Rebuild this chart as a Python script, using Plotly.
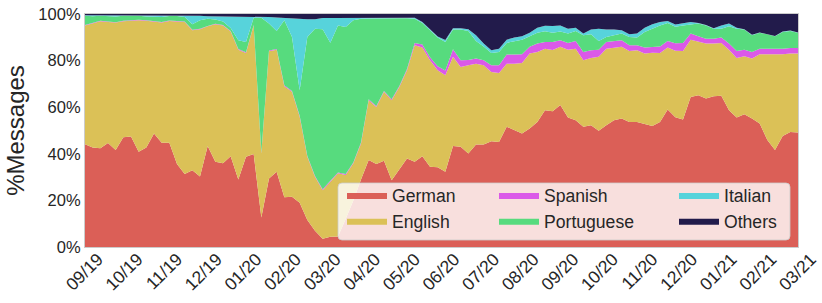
import numpy as np
import plotly.graph_objects as go

month_labels = ["09/19", "10/19", "11/19", "12/19", "01/20", "02/20", "03/20", "04/20",
                "05/20", "06/20", "07/20", "08/20", "09/20", "10/20", "11/20", "12/20",
                "01/21", "02/21", "03/21"]
pct_values = [0, 20, 40, 60, 80, 100]
pct_labels = ["0%", "20%", "40%", "60%", "80%", "100%"]

german = [44.1, 42.7, 42.4, 44.6, 41.6, 47.1, 47.4, 40.9, 42.7, 48.7, 44.7, 44.7, 35.6, 31.3, 32.9, 30.3,
          43.3, 36.6, 35.9, 39.0, 29.0, 38.7, 39.9, 12.7, 29.4, 32.3, 21.3, 21.6, 19.0, 11.6, 7.0, 3.5,
          4.4, 4.5, 12.0, 20.0, 29.0, 37.3, 35.6, 37.0, 28.7, 33.3, 38.0, 36.6, 39.0, 34.4, 34.2, 32.3,
          43.3, 43.0, 40.1, 44.0, 44.0, 45.4, 45.1, 51.6, 50.1, 48.7, 50.9, 53.7, 58.7, 58.3, 60.9, 55.6,
          54.4, 51.6, 52.3, 49.9, 52.3, 54.4, 55.1, 53.7, 53.7, 52.7, 51.9, 53.7, 59.0, 55.7, 54.7, 64.4,
          65.1, 63.7, 64.7, 64.9, 58.7, 55.6, 57.0, 55.1, 53.0, 45.9, 41.6, 47.6, 49.4, 49.1]
english = [51.0, 53.2, 54.5, 52.0, 54.7, 49.8, 49.7, 56.4, 54.4, 47.9, 51.7, 52.3, 61.3, 65.3, 60.1, 63.2,
           51.4, 59.0, 59.2, 53.5, 55.7, 44.6, 55.2, 27.4, 54.6, 52.4, 47.7, 45.0, 36.9, 27.1, 23.1, 20.9,
           23.6, 27.1, 18.9, 15.9, 15.4, 25.7, 24.5, 29.6, 34.3, 35.4, 37.9, 50.0, 46.6, 45.7, 41.7, 41.4,
           38.3, 34.3, 37.9, 34.7, 34.0, 29.7, 29.6, 27.1, 28.6, 30.3, 32.1, 30.0, 26.4, 26.3, 25.0, 29.1,
           30.7, 28.5, 28.8, 31.7, 32.8, 31.2, 30.8, 30.4, 30.7, 30.3, 31.5, 29.6, 26.6, 28.5, 29.4, 24.6,
           22.9, 23.6, 22.6, 22.7, 26.0, 25.5, 24.9, 25.8, 29.7, 36.7, 41.1, 35.1, 33.6, 33.9]
spanish = [0.2, 0.2, 0.2, 0.2, 0.2, 0.2, 0.2, 0.2, 0.2, 0.2, 0.2, 0.2, 0.2, 0.2, 0.2, 0.2,
           0.2, 0.2, 0.2, 0.2, 0.3, 0.3, 0.2, 0.3, 0.3, 0.3, 0.4, 0.4, 0.4, 0.4, 0.4, 0.4,
           0.4, 0.4, 0.4, 0.4, 0.4, 0.4, 0.4, 0.4, 0.4, 0.4, 0.5, 1.0, 1.3, 1.3, 1.7, 2.1,
           3.3, 2.9, 2.3, 2.2, 2.2, 2.9, 3.3, 3.9, 3.9, 3.7, 2.9, 3.6, 2.9, 3.4, 2.8, 2.9,
           3.3, 3.6, 3.3, 3.1, 2.9, 2.8, 2.8, 2.5, 2.2, 2.6, 2.5, 2.8, 2.8, 3.3, 3.5, 2.6,
           2.4, 2.1, 2.1, 2.3, 2.6, 3.0, 2.8, 2.8, 2.4, 2.4, 2.4, 2.4, 2.4, 2.4]
portuguese = [3.9, 2.9, 2.1, 2.2, 2.4, 2.2, 2.0, 1.8, 1.6, 1.9, 2.1, 1.9, 2.0, 1.9, 2.4, 3.6,
              3.1, 1.8, 1.5, 1.3, 3.7, 4.4, 3.1, 58.0, 11.6, 7.7, 27.9, 23.1, 11.0, 51.0, 63.2, 68.7,
              59.3, 63.1, 63.1, 61.0, 53.2, 34.7, 37.7, 31.3, 34.9, 29.1, 21.8, 10.4, 9.2, 11.6, 12.3, 12.2,
              8.4, 13.1, 12.4, 7.5, 5.9, 5.3, 5.7, 5.0, 5.8, 6.3, 4.5, 4.6, 4.6, 4.0, 3.8, 4.0,
              4.3, 7.2, 6.9, 3.7, 2.1, 2.5, 2.9, 3.5, 3.3, 6.7, 7.8, 9.0, 7.7, 7.0, 7.5, 4.0,
              5.5, 5.7, 4.3, 3.8, 7.4, 9.6, 8.6, 7.2, 6.8, 6.3, 5.3, 7.2, 7.3, 6.5]
italian = [0.3, 0.5, 0.3, 0.5, 0.5, 0.2, 0.2, 0.2, 0.5, 0.6, 0.6, 0.3, 0.3, 0.6, 3.7, 1.9,
           1.0, 1.4, 2.2, 4.9, 10.1, 10.8, 0.4, 0.4, 2.8, 5.8, 1.0, 7.9, 30.5, 7.7, 4.1, 4.8,
           10.6, 3.2, 3.9, 1.0, 0.4, 0.4, 0.3, 0.3, 0.3, 0.3, 0.3, 0.4, 0.5, 0.4, 0.4, 0.8,
           0.6, 0.6, 0.8, 2.5, 1.2, 1.1, 1.4, 1.4, 1.5, 1.4, 1.5, 2.2, 2.4, 2.9, 2.6, 2.1,
           1.4, 0.7, 2.0, 5.3, 3.2, 2.4, 1.4, 1.2, 1.7, 1.8, 1.9, 1.5, 0.9, 1.0, 1.0, 1.0,
           0.2, 0.2, 0.2, 1.4, 1.2, 0.4, 0.2, 0.2, 0.2, 0.2, 0.2, 0.2, 0.2, 0.2]
others = [0.5, 0.5, 0.5, 0.5, 0.6, 0.5, 0.5, 0.5, 0.6, 0.7, 0.7, 0.6, 0.6, 0.7, 0.7, 0.8,
          1.0, 1.0, 1.0, 1.1, 1.2, 1.2, 1.2, 1.2, 1.3, 1.5, 1.7, 2.0, 2.2, 2.2, 2.2, 1.7,
          1.7, 1.7, 1.7, 1.7, 1.6, 1.5, 1.5, 1.4, 1.4, 1.5, 1.5, 1.6, 3.4, 6.6, 9.7, 11.2,
          6.1, 6.1, 6.5, 9.1, 12.7, 15.6, 14.9, 11.0, 10.1, 9.6, 8.1, 5.9, 5.0, 5.1, 4.9, 6.3,
          5.9, 8.4, 6.7, 6.3, 6.7, 6.7, 7.0, 8.7, 8.4, 5.9, 4.4, 3.4, 3.0, 4.5, 3.9, 3.4,
          3.9, 4.7, 6.1, 4.9, 4.1, 5.9, 6.5, 8.9, 7.9, 8.5, 9.4, 7.5, 7.1, 7.9]

series = [
    ("German", german, "#DB5F57", "legend"),
    ("English", english, "#DBC157", "legend"),
    ("Spanish", spanish, "#DB59E8", "legend2"),
    ("Portuguese", portuguese, "#57DB7E", "legend2"),
    ("Italian", italian, "#57D3DB", "legend3"),
    ("Others", others, "#221B4B", "legend3"),
]

x = list(range(len(german)))
tick_pos = [float(v) for v in np.linspace(0, len(german) - 1, len(month_labels))]

FONT = "Liberation Sans"
TXT = "#262626"

fig = go.Figure()
for name, vals, color, leg in series:
    fig.add_trace(go.Scatter(
        x=x, y=vals, name=name, mode="lines", stackgroup="one",
        line=dict(width=0, color=color), fillcolor=color, legend=leg,
    ))

W, H = 822, 303
ml, mr, mt, mb = 85, 24, 14, 56
pw, ph = W - ml - mr, H - mt - mb


def px2paper(px, py):
    return (px - ml) / pw, (H - mb - py) / ph


# legend background box (rounded)
bx0, by0, bx1, by1 = 338, 183, 790, 240
r = 4
rx, ry = r / pw, r / ph
X0, Y1 = px2paper(bx0, by0)
X1, Y0 = px2paper(bx1, by1)
path = (f"M {X0+rx},{Y1} L {X1-rx},{Y1} Q {X1},{Y1} {X1},{Y1-ry} "
        f"L {X1},{Y0+ry} Q {X1},{Y0} {X1-rx},{Y0} L {X0+rx},{Y0} "
        f"Q {X0},{Y0} {X0},{Y0+ry} L {X0},{Y1-ry} Q {X0},{Y1} {X0+rx},{Y1} Z")
fig.add_shape(type="path", path=path, xref="paper", yref="paper",
              fillcolor="rgba(255,255,255,0.8)", line=dict(color="rgba(204,204,204,0.8)", width=1),
              layer="above")

leg_common = dict(xref="paper", yref="paper", xanchor="left", yanchor="top",
                  bgcolor="rgba(0,0,0,0)", borderwidth=0, traceorder="normal",
                  itemwidth=40, tracegroupgap=0,
                  font=dict(family=FONT, size=17.6, color=TXT))
_, top_y = px2paper(0, 177)

fig.update_layout(
    width=W, height=H,
    margin=dict(l=ml, r=mr, t=mt, b=mb, autoexpand=False),
    paper_bgcolor="white", plot_bgcolor="white",
    font=dict(family=FONT, color=TXT),
    showlegend=True,
    legend=dict(x=px2paper(342, 0)[0], y=top_y, **leg_common),
    legend2=dict(x=px2paper(494, 0)[0], y=top_y, **leg_common),
    legend3=dict(x=px2paper(674, 0)[0], y=top_y, **leg_common),
    xaxis=dict(
        range=[0, len(german) - 1], tickmode="array", tickvals=tick_pos, ticktext=month_labels,
        tickangle=-45, tickfont=dict(size=17.5, color=TXT), ticks="", showgrid=False,
        zeroline=False, showline=True, mirror=True, linecolor="#cccccc", linewidth=1.25,
        ticklabelshift=13, ticklabelstandoff=-6, ticklabeloverflow="allow", automargin=False,
    ),
    yaxis=dict(
        range=[0, 100], tickmode="array", tickvals=pct_values, ticktext=pct_labels,
        tickfont=dict(size=16.5, color=TXT), ticks="", showgrid=False, zeroline=False,
        showline=True, mirror=True, linecolor="#cccccc", linewidth=1.25, automargin=False,
        title=dict(text="%Messages", font=dict(size=24, color=TXT), standoff=6),
    ),
)

fig.write_html("out.html", config={"displayModeBar": False},
               post_script="document.body.style.margin='0';document.body.style.overflow='hidden';")
